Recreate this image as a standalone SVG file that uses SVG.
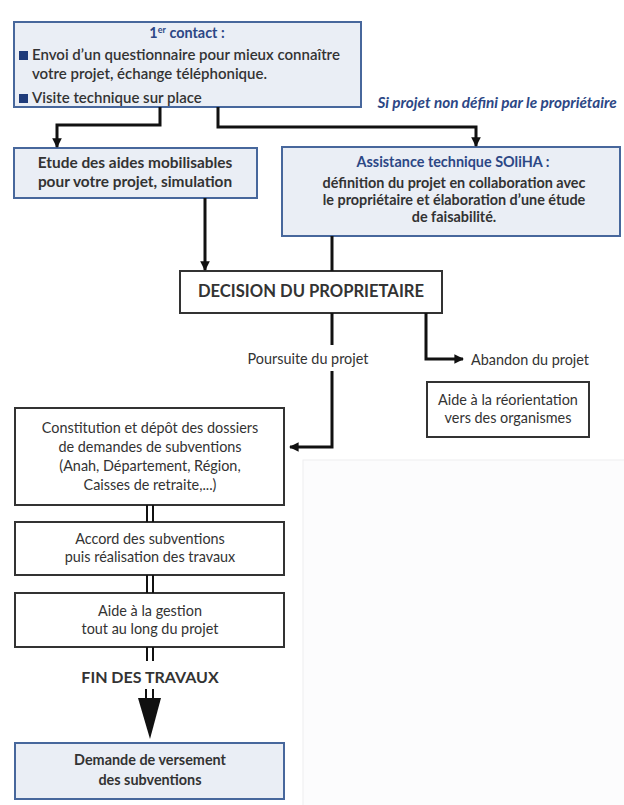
<svg xmlns="http://www.w3.org/2000/svg" width="624" height="805" viewBox="0 0 624 805">
<defs>
<marker id="ah" viewBox="0 0 10 10" refX="9" refY="5" markerWidth="3.2" markerHeight="3.2" orient="auto" markerUnits="strokeWidth">
<path d="M0,0 L10,5 L0,10 z" fill="#111"/>
</marker>
</defs>
<style>
.blue{fill:#eaeef5;stroke:#47679c;stroke-width:2}
.plain{fill:#ffffff;stroke:#333;stroke-width:2}
.t{font-family:Lato,"Open Sans","Liberation Sans",sans-serif;fill:#333;font-size:14.4px;text-anchor:middle}
.b{font-weight:bold}
.bt{fill:#2c4785;font-weight:bold}
.c{fill:none;stroke:#111;stroke-width:3}
.d{fill:none;stroke:#111;stroke-width:2}
</style>
<rect width="624" height="805" fill="#ffffff"/>
<rect x="303" y="460" width="330" height="360" fill="#fcfcfd" stroke="#ededf0" stroke-width="1"/>

<g id="contact">
<rect class="blue" x="14" y="22" width="347" height="85"/>
<text class="t bt" x="187" y="38">1<tspan font-size="9" dy="-5">er</tspan><tspan dy="5"> contact :</tspan></text>
<rect x="19" y="51" width="9" height="9" fill="#1f3b7a"/>
<text class="t" x="32" y="60" style="text-anchor:start;font-weight:600;font-size:15px">Envoi d’un questionnaire pour mieux connaître</text>
<text class="t" x="32" y="79" style="text-anchor:start;font-weight:600;font-size:15px">votre projet, échange téléphonique.</text>
<rect x="19" y="94" width="9" height="9" fill="#1f3b7a"/>
<text class="t" x="32" y="103" style="text-anchor:start;font-weight:600;font-size:15px">Visite technique sur place</text>
</g>

<text id="si-projet" class="t bt" x="497" y="108" style="font-style:italic;font-size:15.3px">Si projet non défini par le propriétaire</text>

<g id="etude">
<rect class="blue" x="14" y="148" width="243" height="50"/>
<text class="t b" x="135" y="168" style="font-size:15.4px">Etude des aides mobilisables</text>
<text class="t b" x="135" y="187" style="font-size:15.4px">pour votre projet, simulation</text>
</g>

<g id="assistance">
<rect class="blue" x="282" y="147" width="338" height="89"/>
<text class="t bt" x="453" y="167">Assistance technique SOliHA :</text>
<text class="t b" x="454" y="188">définition du projet en collaboration avec</text>
<text class="t b" x="454" y="205">le propriétaire et élaboration d’une étude</text>
<text class="t b" x="454" y="222">de faisabilité.</text>
</g>

<g id="decision">
<rect class="plain" x="180" y="271" width="262" height="42"/>
<text class="t b" x="311" y="297" style="font-size:16.6px">DECISION DU PROPRIETAIRE</text>
</g>

<text id="poursuite" class="t" x="308" y="364">Poursuite du projet</text>
<text id="abandon" class="t" x="471" y="365" style="text-anchor:start">Abandon du projet</text>

<g id="reorientation">
<rect class="plain" x="427" y="382" width="162" height="55"/>
<text class="t" x="508" y="405">Aide à la réorientation</text>
<text class="t" x="508" y="423">vers des organismes</text>
</g>

<g id="constitution">
<rect class="plain" x="15" y="408" width="269" height="97"/>
<text class="t" x="150" y="433">Constitution et dépôt des dossiers</text>
<text class="t" x="150" y="452">de demandes de subventions</text>
<text class="t" x="150" y="471">(Anah, Département, Région,</text>
<text class="t" x="150" y="490">Caisses de retraite,...)</text>
</g>

<g id="accord">
<rect class="plain" x="15" y="522" width="269" height="53"/>
<text class="t" x="150" y="544">Accord des subventions</text>
<text class="t" x="150" y="562">puis réalisation des travaux</text>
</g>

<g id="gestion">
<rect class="plain" x="15" y="593" width="269" height="54"/>
<text class="t" x="150" y="616">Aide à la gestion</text>
<text class="t" x="150" y="634">tout au long du projet</text>
</g>

<text id="fin" class="t b" x="150" y="683" style="font-size:16px">FIN DES TRAVAUX</text>

<g id="versement">
<rect class="blue" x="15" y="743" width="269" height="56"/>
<text class="t b" x="150" y="765">Demande de versement</text>
<text class="t b" x="150" y="785">des subventions</text>
</g>

<g id="connectors">
<path class="c" d="M160,107 V125 H57 V147" marker-end="url(#ah)"/>
<path class="c" d="M218,107 V127 H476 V146" marker-end="url(#ah)"/>
<path class="c" d="M205,198 V270" marker-end="url(#ah)"/>
<path class="c" d="M332,236 V271"/>
<path class="c" d="M332,313 V345"/>
<path class="c" d="M332,371 V447 H290" marker-end="url(#ah)"/>
<path class="c" d="M426,313 V359 H463" marker-end="url(#ah)"/>
<path class="d" d="M147,505 V522 M153,505 V522"/>
<path class="d" d="M147,575 V593 M153,575 V593"/>
<path class="d" d="M147,647 V661 M153,647 V661"/>
<path class="d" d="M146,689 V700 M153,689 V700"/>
<path d="M138,698 L161,698 L150,739 z" fill="#111"/>
</g>
</svg>
